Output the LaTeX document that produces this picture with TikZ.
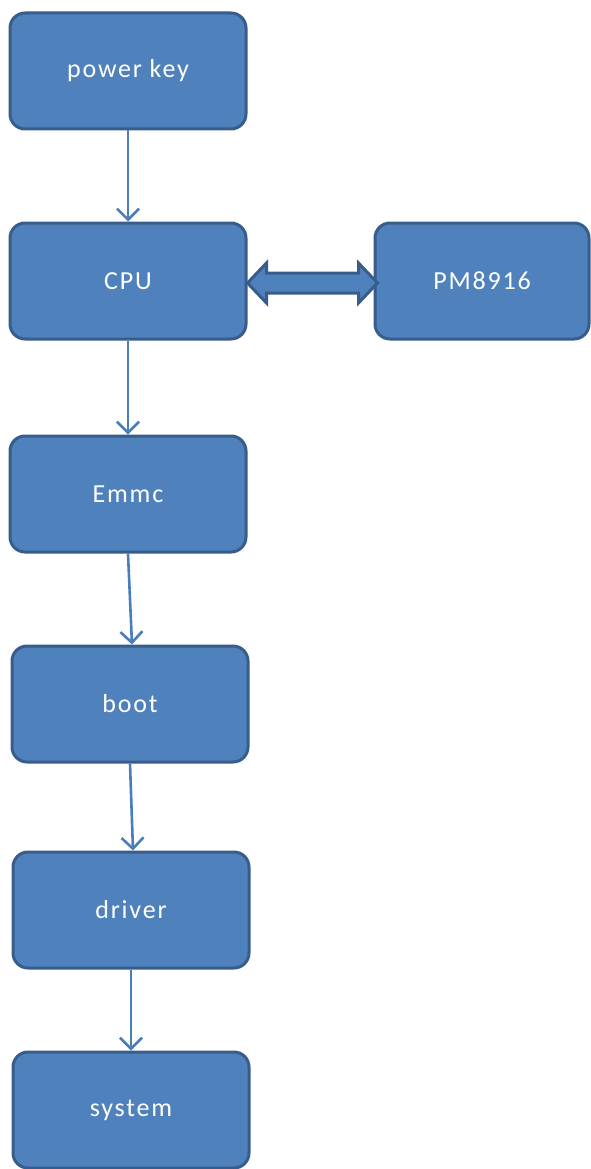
\documentclass[tikz,border=0pt]{standalone}
\usepackage{fontspec}
\setmainfont{Carlito}[LetterSpace=7]
\usetikzlibrary{arrows.meta,calc}
\definecolor{boxfill}{HTML}{4F81BD}
\definecolor{boxline}{HTML}{385D8A}
\definecolor{linkcol}{HTML}{4A7EBB}
\begin{document}
\begin{tikzpicture}[x=1pt,y=-1pt,
  stepbox/.style={draw=boxline,line width=3pt,fill=boxfill,rounded corners=15pt,
    minimum width=236pt,minimum height=116pt,inner sep=0pt,
    text=white,font=\fontsize{26}{30}\selectfont},
  link/.style={draw=linkcol,line width=2.6pt,
    -{Straight Barb[length=11pt,width=22pt,line width=2.6pt]}},
  bus/.style={draw=boxline,line width=3pt,fill=boxfill,line join=miter}]
\useasboundingbox (0,0) rectangle (591,1169);
\node[stepbox] (key)    at (128,71)   {power key};
\node[stepbox] (cpu)    at (128,281)  {CPU};
\node[stepbox,minimum width=214pt] (pm) at (482,281) {PM8916};
\node[stepbox] (emmc)   at (128,494)  {Emmc};
\node[stepbox] (boot)   at (130,704)  {boot};
\node[stepbox] (driver) at (131,910)  {driver};
\node[stepbox] (system) at (131,1110) {system};
% sequential boot chain
\draw[link] (key.south) -- (cpu.north);
\draw[link] (cpu.south) -- (emmc.north);
\draw[link] (emmc.south) -- ([xshift=2pt]boot.north);
\draw[link] (boot.south) -- ([xshift=2pt]driver.north);
\draw[link] (driver.south) -- (system.north);
% two-way bus between CPU and PMIC
\coordinate (l) at ($(cpu.east)+(0,2)$);
\coordinate (r) at ($(pm.west)+(4,2)$);
\draw[bus] (l) -- ++(19,-20) -- ++(0,10) -- ($(r)+(-19,-10)$) -- ++(0,-10)
  -- (r) -- ++(-19,20) -- ++(0,-10) -- ($(l)+(19,10)$) -- ++(0,10) -- cycle;
\end{tikzpicture}
\end{document}
